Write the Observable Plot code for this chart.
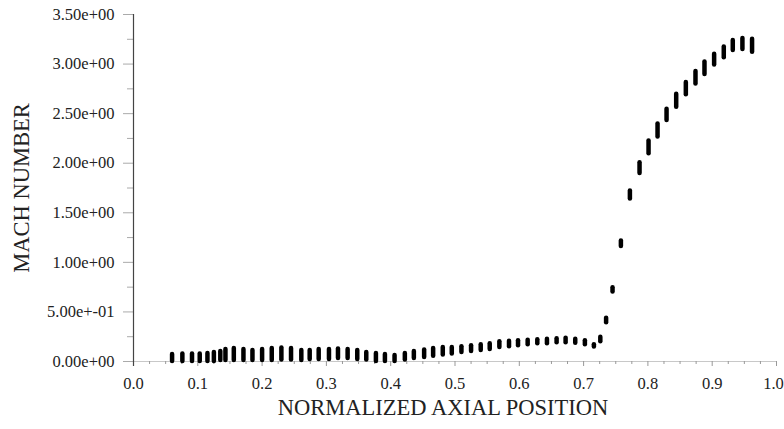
<!DOCTYPE html>
<html>
<head>
<meta charset="utf-8">
<script src="https://cdn.jsdelivr.net/npm/d3@7"></script>
<script src="https://cdn.jsdelivr.net/npm/@observablehq/plot@0.6"></script>
<style>
  html, body { margin: 0; padding: 0; background: #fff; }
</style>
</head>
<body>
<div id="chart"></div>
<script>
// Normalized axial position of each column of points
const xPos = [0.060,0.076,0.091,0.103,0.115,0.125,0.135,0.143,0.156,0.171,0.185,0.200,0.215,0.230,0.245,0.261,0.274,0.288,0.304,0.318,0.333,0.348,0.362,0.377,0.391,0.406,0.422,0.436,0.452,0.466,0.481,
  0.495,0.510,0.525,0.540,0.554,0.569,0.584,0.598,0.613,0.628,0.643,0.658,0.672,0.687,0.702,
  0.716,0.726,0.735,0.745,0.758,
  0.772,0.787,0.801,0.815,0.829,0.844,0.859,0.874,0.888,0.903,0.918,0.932,0.947,0.962];
// Minimum Mach number at each axial position
const machLo = [0.00,0.00,0.00,0.00,0.00,0.00,0.01,0.01,0.01,0.01,0.01,0.01,0.01,0.015,0.015,0.01,0.02,0.02,0.02,0.03,0.03,0.02,0.015,0.00,0.00,0.00,0.015,0.03,0.04,0.053,0.065,
  0.075,0.09,0.10,0.11,0.12,0.14,0.15,0.16,0.17,0.18,0.18,0.19,0.19,0.185,0.17,
  0.145,0.20,0.39,0.70,1.16,
  1.64,1.895,2.095,2.265,2.43,2.565,2.69,2.80,2.895,2.99,3.063,3.138,3.148,3.12];
// Maximum Mach number at each axial position
const machHi = [0.07,0.075,0.075,0.075,0.08,0.09,0.10,0.12,0.13,0.12,0.11,0.12,0.13,0.135,0.13,0.11,0.11,0.12,0.12,0.125,0.12,0.11,0.09,0.08,0.07,0.06,0.08,0.10,0.115,0.13,0.14,
  0.14,0.15,0.16,0.17,0.18,0.20,0.205,0.21,0.215,0.22,0.225,0.23,0.235,0.225,0.21,
  0.17,0.245,0.435,0.745,1.215,
  1.72,2.005,2.225,2.395,2.545,2.695,2.815,2.925,3.02,3.10,3.173,3.238,3.258,3.25];

const yMajor = [0, 0.5, 1, 1.5, 2, 2.5, 3, 3.5];
const yMinor = [0.25, 0.75, 1.25, 1.75, 2.25, 2.75, 3.25];
const yLabels = ["0.00e+00","5.00e+-01","1.00e+00","1.50e+00","2.00e+00","2.50e+00","3.00e+00","3.50e+00"];
const xMajor = [0, 0.1, 0.2, 0.3, 0.4, 0.5, 0.6, 0.7, 0.8, 0.9, 1.0];
const xMinor = d3.range(0, 41).map(i => i / 40).filter(v => Math.abs(v * 10 - Math.round(v * 10)) > 1e-6);
const xLabels = ["0.0","0.1","0.2","0.3","0.4","0.5","0.6","0.7","0.8","0.9","1.0"];

const data = xPos.map((x, i) => ({x, lo: machLo[i], hi: machHi[i]}));
const serif = "'Liberation Serif', 'Times New Roman', serif";
const xLabelStyle = {x: d => d, text: d => xLabels[xMajor.indexOf(d)], frameAnchor: "bottom", lineAnchor: "top",
  dy: 16, fontSize: 16.5, fontFamily: serif, fill: "#222"};

const chart = Plot.plot({
  width: 784,
  height: 429,
  marginLeft: 133,
  marginRight: 8,
  marginTop: 14,
  marginBottom: 68,
  style: {fontFamily: serif, fontSize: "16px", background: "#fff", color: "#222"},
  x: {domain: [0, 1]},
  y: {domain: [0, 3.5]},
  marks: [
    Plot.ruleY([0], {stroke: "#c8c8c8", strokeWidth: 1}),
    Plot.axisX(xMinor, {tickSize: 3, text: null, stroke: "#999", label: null}),
    Plot.axisX(xMajor, {tickSize: 5, text: null, stroke: "#999", label: null}),
    Plot.text(xMajor.filter(d => d < 1), xLabelStyle),
    Plot.text(xMajor.filter(d => d >= 1), {...xLabelStyle, dx: -3}),
    Plot.axisY(yMinor, {tickSize: 6, text: null, stroke: "#aaa", label: null}),
    Plot.axisY(yMajor, {tickSize: 10, text: null, stroke: "#aaa", label: null}),
    Plot.text(yMajor, {y: d => d, text: (d, i) => yLabels[i], frameAnchor: "left", textAnchor: "end",
      dx: -19, fontSize: 16.5, fontFamily: serif, fill: "#222"}),
    Plot.ruleX([0], {stroke: "#444", strokeWidth: 1.2, insetBottom: -5}),
    Plot.ruleX(data, {x: "x", y1: "lo", y2: "hi", stroke: "#000", strokeWidth: 4.5, strokeLinecap: "round"}),
    Plot.text(["MACH NUMBER"], {frameAnchor: "left", textAnchor: "middle", dx: -111.5, rotate: -90, fontSize: 22.5, fontFamily: serif, fill: "#222"}),
    Plot.text(["NORMALIZED AXIAL POSITION"], {frameAnchor: "bottom", textAnchor: "middle", dx: -12, dy: 53.5, fontSize: 22.5, fontFamily: serif, fill: "#222"})
  ]
});
document.getElementById("chart").appendChild(chart);
</script>
</body>
</html>
